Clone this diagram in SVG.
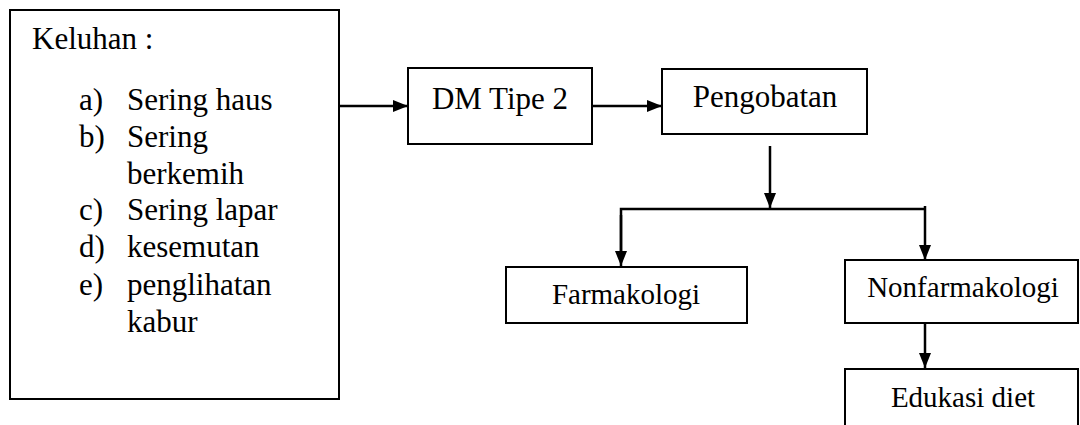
<svg xmlns="http://www.w3.org/2000/svg" width="1080" height="425" viewBox="0 0 1080 425">
<style>
.box{fill:#fff;stroke:#000;stroke-width:2}
.c{fill:none;stroke:#000;stroke-width:2.5}
</style>
<defs>
<marker id="ah" markerUnits="userSpaceOnUse" markerWidth="15" markerHeight="12" refX="15" refY="6" orient="auto">
<path d="M0,0 L15,6 L0,12 z" fill="#000"/>
</marker>
</defs>
<rect width="1080" height="425" fill="#fff"/>
<g id="connectors">
<line class="c" x1="339" y1="106" x2="408" y2="106" marker-end="url(#ah)"/>
<line class="c" x1="592" y1="106" x2="662" y2="106" marker-end="url(#ah)"/>
<line class="c" x1="770" y1="146" x2="770" y2="208" marker-end="url(#ah)"/>
<polyline class="c" points="621,255 621,209 925,209"/>
<line class="c" x1="621" y1="215" x2="621" y2="266" marker-end="url(#ah)"/>
<line class="c" x1="925" y1="206" x2="925" y2="260" marker-end="url(#ah)"/>
<line class="c" x1="925" y1="323" x2="925" y2="368" marker-end="url(#ah)"/>
</g>
<g font-family="Liberation Serif, Times New Roman, serif" fill="#000">
<g id="keluhan" font-size="31">
<rect class="box" x="10" y="10" width="329" height="389"/>
<text x="32" y="49">Keluhan :</text>
<text x="79" y="110">a)</text><text x="127" y="110">Sering haus</text>
<text x="79" y="147">b)</text><text x="127" y="147">Sering</text>
<text x="127" y="184">berkemih</text>
<text x="79" y="220">c)</text><text x="127" y="220">Sering lapar</text>
<text x="79" y="257">d)</text><text x="127" y="257">kesemutan</text>
<text x="79" y="295">e)</text><text x="127" y="295">penglihatan</text>
<text x="127" y="332">kabur</text>
</g>
<g id="dm" font-size="31">
<rect class="box" x="408" y="68" width="184" height="76"/>
<text x="500" y="109" text-anchor="middle">DM Tipe 2</text>
</g>
<g id="pengobatan" font-size="31">
<rect class="box" x="662" y="69" width="205" height="65"/>
<text x="765" y="107" text-anchor="middle">Pengobatan</text>
</g>
<g id="farmakologi" font-size="29">
<rect class="box" x="506" y="267" width="241" height="56"/>
<text x="626" y="304" text-anchor="middle">Farmakologi</text>
</g>
<g id="nonfarmakologi" font-size="29">
<rect class="box" x="845" y="260" width="233" height="63"/>
<text x="963" y="297" text-anchor="middle">Nonfarmakologi</text>
</g>
<g id="edukasi" font-size="29">
<rect class="box" x="845" y="369" width="233" height="70"/>
<text x="963" y="407" text-anchor="middle">Edukasi diet</text>
</g>
</g>
</svg>
